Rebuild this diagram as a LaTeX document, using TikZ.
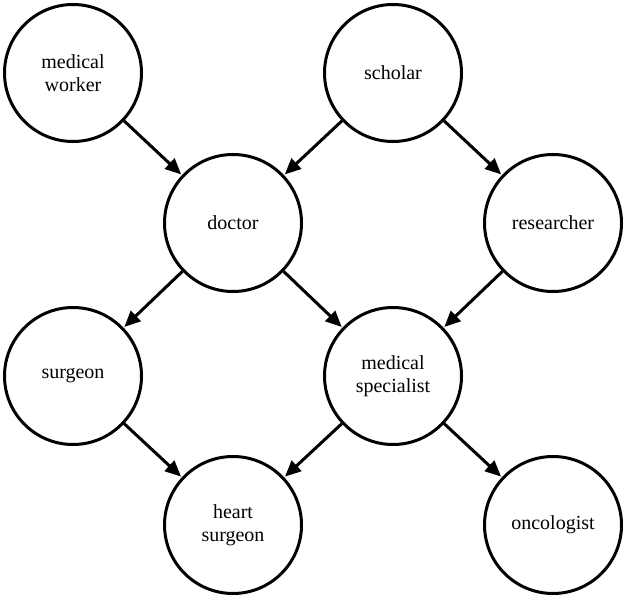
\documentclass[tikz,border=0pt]{standalone}
\usepackage{fontspec}
\setmainfont{Liberation Serif}
\usetikzlibrary{arrows.meta}
\begin{document}
\begin{tikzpicture}[x=1pt,y=-1pt,
  n/.style={circle,draw,line width=3pt,minimum size=137pt,inner sep=0pt,align=center,font=\fontsize{20}{23}\selectfont},
  a/.style={-{Stealth[length=16pt,width=14pt,inset=0pt]},line width=3pt,shorten >=1pt}]
\useasboundingbox (0,0) rectangle (626,596);
\node[n] (mw) at (73,73) {medical\\worker};
\node[n] (sc) at (393,73) {scholar};
\node[n] (dr) at (233,223) {doctor};
\node[n] (rs) at (553,223) {researcher};
\node[n] (sg) at (73,376) {surgeon};
\node[n] (ms) at (393,376) {medical\\specialist};
\node[n] (hs) at (233,525) {heart\\surgeon};
\node[n] (on) at (553,525) {oncologist};
\draw[a] (mw) -- (dr);
\draw[a] (sc) -- (dr);
\draw[a] (sc) -- (rs);
\draw[a] (dr) -- (sg);
\draw[a] (dr) -- (ms);
\draw[a] (rs) -- (ms);
\draw[a] (sg) -- (hs);
\draw[a] (ms) -- (hs);
\draw[a] (ms) -- (on);
\end{tikzpicture}
\end{document}
